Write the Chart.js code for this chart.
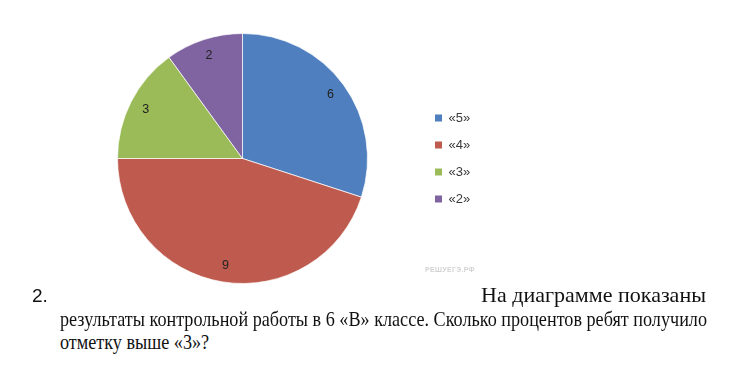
<!DOCTYPE html>
<html><head><meta charset="utf-8">
<script src="https://cdn.jsdelivr.net/npm/chart.js@4"></script>
<style>
html,body{margin:0;padding:0;background:#fff;width:750px;height:377px;overflow:hidden}
#wrap{position:absolute;left:0;top:0;width:750px;height:290px}
.t{position:absolute;white-space:nowrap;line-height:1;transform-origin:0 0;color:#111}
.serif{font-family:"Liberation Serif","Times New Roman",serif;font-size:18px}
#wm{position:absolute;left:425px;top:266px;font-family:"Liberation Sans",Arial;font-size:7px;font-weight:bold;color:#d2d2d2;letter-spacing:0.3px}
</style></head><body>
<div id="wrap"><canvas id="c"></canvas></div>
<div id="wm">РЕШУЕГЭ.РФ</div>
<div class="t" id="num" style="font-family:'Liberation Sans',Arial;font-size:19px;left:32px;top:286px">2.</div>
<div class="t serif" id="l1" style="left:481px;top:285px">На диаграмме показаны</div>
<div class="t serif" id="l2" style="left:60px;top:309px">результаты контрольной работы в 6 «В» классе. Сколько процентов ребят получило</div>
<div class="t serif" id="l3" style="left:60px;top:332px">отметку выше «3»?</div>
<script>
const categories = ["«5»", "«4»", "«3»", "«2»"];
const counts = [6, 9, 3, 2];
const colors = ["#4F7FBE", "#BE5B4E", "#9BBB59", "#8064A2"];

// fit text lines
function fit(id, target, sx) {
  const el = document.getElementById(id);
  const w = el.getBoundingClientRect().width;
  const s = sx || target / w;
  el.style.transform = "scale(" + s + ",1.12)";
  return s;
}
const s2 = fit("l2", 647);
fit("l3", 0, s2);
fit("l1", 225);

const labelPlugin = {
  id: "sliceLabels",
  afterDatasetsDraw(chart) {
    const ctx = chart.ctx;
    const meta = chart.getDatasetMeta(0);
    ctx.save();
    ctx.font = "12.5px 'Liberation Sans', Arial, sans-serif";
    ctx.fillStyle = "#222";
    ctx.textAlign = "center";
    ctx.textBaseline = "middle";
    meta.data.forEach((arc, i) => {
      const p = arc.getProps(["x", "y", "startAngle", "endAngle", "outerRadius"], true);
      const mid = (p.startAngle + p.endAngle) / 2;
      const r = p.outerRadius * 0.87;
      ctx.fillText(String(chart.data.datasets[0].data[i]), p.x + Math.cos(mid) * r, p.y + Math.sin(mid) * r);
    });
    ctx.restore();
  }
};

const chart = new Chart(document.getElementById("c"), {
  type: "pie",
  data: {
    labels: categories,
    datasets: [{ data: counts, backgroundColor: colors, borderColor: "rgba(255,255,255,0.7)", borderWidth: 1 }]
  },
  options: {
    responsive: true,
    maintainAspectRatio: false,
    animation: false,
    layout: { padding: { left: 64, top: 33, bottom: 6, right: 271 } },
    plugins: {
      tooltip: { enabled: false },
      legend: {
        position: "right",
        labels: {
          boxWidth: 7, boxHeight: 7, padding: 14,
          color: "#3a3a3a",
          font: { family: "'Liberation Sans', Arial, sans-serif", size: 13 },
          generateLabels(chart) {
            return Chart.controllers.pie.overrides.plugins.legend.labels.generateLabels(chart).map(l => Object.assign(l, { lineWidth: 0, strokeStyle: "transparent" }));
          }
        }
      }
    }
  },
  plugins: [labelPlugin]
});
// place legend so its items start at x=435 (chart area then centred on 242.5)
const dx = chart.legend.left - 421;
chart.options.layout.padding.right += dx;
chart.update();
</script>
</body></html>
